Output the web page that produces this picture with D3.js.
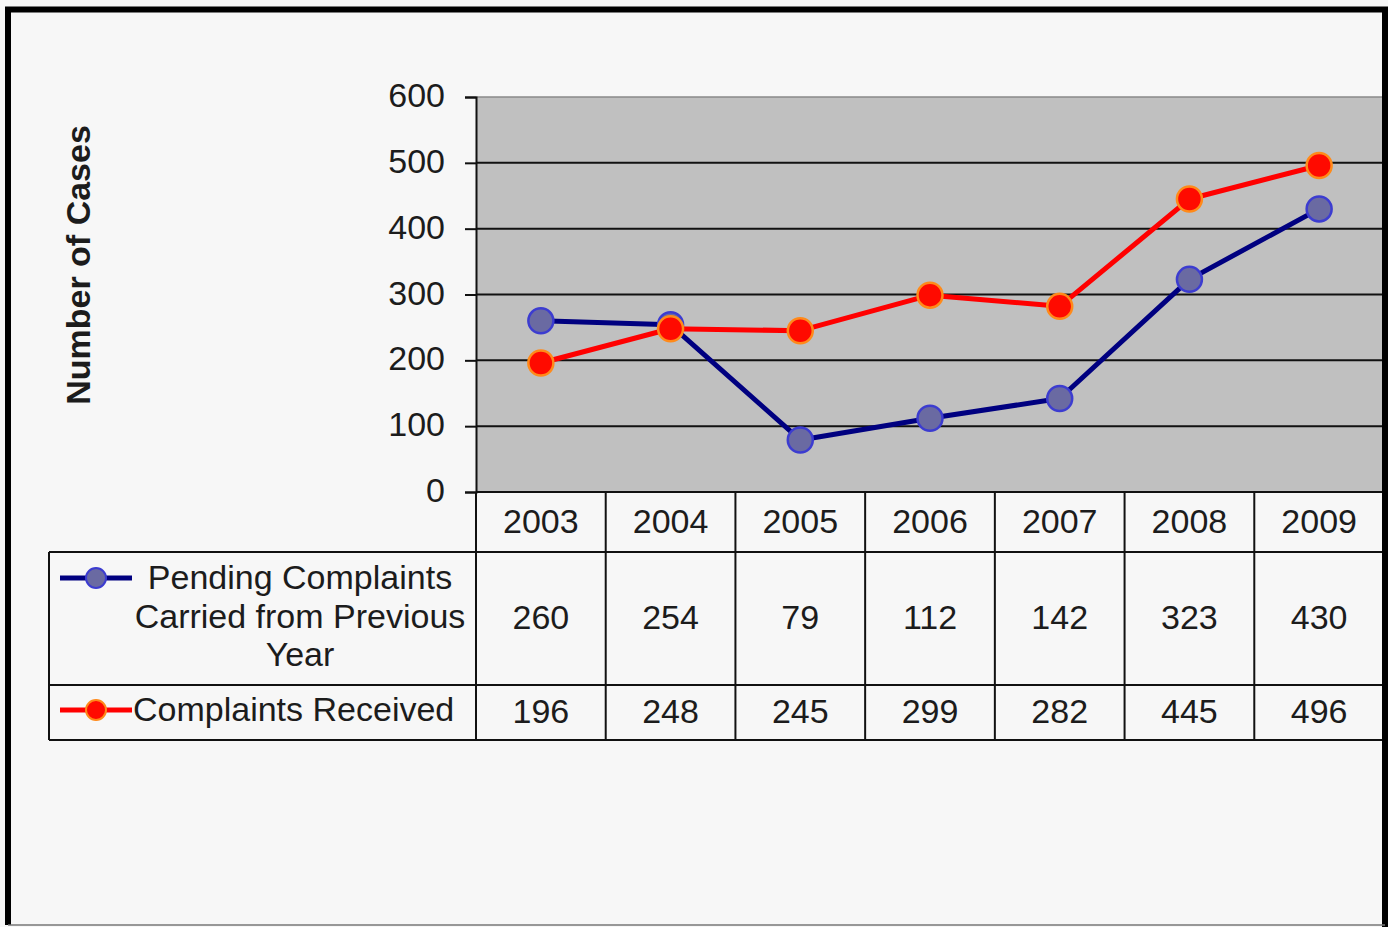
<!DOCTYPE html>
<html>
<head>
<meta charset="utf-8">
<script src="https://cdn.jsdelivr.net/npm/d3@7"></script>
<style>
  html, body { margin: 0; padding: 0; background: #f7f7f7; }
  svg { display: block; }
  text { font-family: "Liberation Sans", Arial, sans-serif; fill: #1c1c1c; }
</style>
</head>
<body>
<svg id="chart" width="1388" height="927"></svg>
<script>
// Chart data
const years = ["2003", "2004", "2005", "2006", "2007", "2008", "2009"];
const pendingCarried = [260, 254, 79, 112, 142, 323, 430];
const complaintsReceived = [196, 248, 245, 299, 282, 445, 496];
const yTicks = [0, 100, 200, 300, 400, 500, 600];
const seriesNames = [
  ["Pending Complaints", "Carried from Previous", "Year"],
  ["Complaints Received"]
];
const yTitle = "Number of Cases";

const svg = d3.select("#chart");
const W = 1388, H = 927;

// Layout
const plotLeft = 476, plotRight = 1384, plotTop = 97, plotBottom = 492;
const legendLeft = 49;
const rowBounds = [492, 552, 685, 740]; // header, series 1, series 2
const fontSize = 34;

const x = d3.scaleBand().domain(years).range([plotLeft, plotRight]);
const y = d3.scaleLinear().domain([0, 600]).range([plotBottom, plotTop]);

// Page background
svg.append("rect").attr("width", W).attr("height", H).attr("fill", "#f7f7f7");

// Plot background
svg.append("rect")
  .attr("x", plotLeft).attr("y", plotTop)
  .attr("width", plotRight - plotLeft).attr("height", plotBottom - plotTop)
  .attr("fill", "#c0c0c0");

// Top edge of plot area
svg.append("line")
  .attr("x1", plotLeft).attr("x2", plotRight)
  .attr("y1", plotTop).attr("y2", plotTop)
  .attr("stroke", "#8a8a8a").attr("stroke-width", 1.5);

// Gridlines
svg.append("g").selectAll("line")
  .data(yTicks.filter(v => v > 0 && v < 600))
  .join("line")
  .attr("x1", plotLeft).attr("x2", plotRight)
  .attr("y1", d => y(d)).attr("y2", d => y(d))
  .attr("stroke", "#111").attr("stroke-width", 2);

// Y axis
const yAxis = d3.axisLeft(y).tickValues(yTicks).tickSize(11).tickPadding(20);
const gy = svg.append("g").attr("transform", `translate(${plotLeft},0)`).call(yAxis);
gy.select(".domain").attr("stroke", "#111").attr("stroke-width", 2);
gy.selectAll(".tick line").attr("stroke", "#111").attr("stroke-width", 2);
gy.selectAll(".tick text")
  .style("font-family", "'Liberation Sans', Arial, sans-serif")
  .style("font-size", fontSize + "px")
  .attr("dy", "0.28em")
  .attr("fill", "#1c1c1c");

// Y axis title
svg.append("text")
  .attr("transform", `translate(90,265) rotate(-90)`)
  .attr("text-anchor", "middle")
  .style("font-size", fontSize + "px")
  .style("font-weight", "bold")
  .attr("fill", "#000")
  .text(yTitle);

// Series
const series = [
  { values: pendingCarried, line: "#000080", fill: "#6a6aa2", stroke: "#3c3cd0" },
  { values: complaintsReceived, line: "#ff0000", fill: "#ff0a00", stroke: "#ff8a1a" }
];
const cx = d => x(d) + x.bandwidth() / 2;
const lineGen = d3.line().x(d => cx(d.year)).y(d => y(d.value));

series.forEach(s => {
  const pts = years.map((yr, i) => ({ year: yr, value: s.values[i] }));
  svg.append("path")
    .datum(pts)
    .attr("d", lineGen)
    .attr("fill", "none")
    .attr("stroke", s.line)
    .attr("stroke-width", 5)
    .attr("stroke-linejoin", "round");
  svg.append("g").selectAll("circle")
    .data(pts)
    .join("circle")
    .attr("cx", d => cx(d.year))
    .attr("cy", d => y(d.value))
    .attr("r", 12.5)
    .attr("fill", s.fill)
    .attr("stroke", s.stroke)
    .attr("stroke-width", 2.5);
});

// Data table
const table = svg.append("g");
const tableStroke = "#111";

// Horizontal rules
table.append("line").attr("x1", plotLeft).attr("x2", plotRight)
  .attr("y1", rowBounds[0]).attr("y2", rowBounds[0])
  .attr("stroke", tableStroke).attr("stroke-width", 2);
[rowBounds[1], rowBounds[2], rowBounds[3]].forEach(yy => {
  table.append("line").attr("x1", legendLeft).attr("x2", plotRight)
    .attr("y1", yy).attr("y2", yy)
    .attr("stroke", tableStroke).attr("stroke-width", 2);
});

// Vertical rules
table.append("line").attr("x1", legendLeft).attr("x2", legendLeft)
  .attr("y1", rowBounds[1]).attr("y2", rowBounds[3])
  .attr("stroke", tableStroke).attr("stroke-width", 2);
years.forEach(yr => {
  table.append("line").attr("x1", x(yr)).attr("x2", x(yr))
    .attr("y1", rowBounds[0]).attr("y2", rowBounds[3])
    .attr("stroke", tableStroke).attr("stroke-width", 2);
});

// Year headers
table.append("g").selectAll("text")
  .data(years).join("text")
  .attr("x", d => cx(d))
  .attr("y", (rowBounds[0] + rowBounds[1]) / 2 + 11)
  .attr("text-anchor", "middle")
  .style("font-size", fontSize + "px")
  .text(d => d);

// Values rows
series.forEach((s, si) => {
  const mid = (rowBounds[si + 1] + rowBounds[si + 2]) / 2;
  table.append("g").selectAll("text")
    .data(years).join("text")
    .attr("x", d => cx(d))
    .attr("y", mid + 10)
    .attr("text-anchor", "middle")
    .style("font-size", fontSize + "px")
    .text((d, i) => s.values[i]);
});

// Legend keys and names
const keyX1 = 60, keyX2 = 132, keyMid = 96;
const legendY = [578, 710];
series.forEach((s, si) => {
  const ky = legendY[si];
  table.append("line").attr("x1", keyX1).attr("x2", keyX2)
    .attr("y1", ky).attr("y2", ky)
    .attr("stroke", s.line).attr("stroke-width", 5);
  table.append("circle").attr("cx", keyMid).attr("cy", ky).attr("r", 10)
    .attr("fill", s.fill).attr("stroke", s.stroke).attr("stroke-width", 2);
});
// First series name (three centred lines)
const nameCx = 300;
seriesNames[0].forEach((ln, i) => {
  table.append("text")
    .attr("x", nameCx)
    .attr("y", 589 + i * 38.5)
    .attr("text-anchor", "middle")
    .style("font-size", fontSize + "px")
    .text(ln);
});
// Second series name
table.append("text")
  .attr("x", 133)
  .attr("y", 721)
  .attr("text-anchor", "start")
  .style("font-size", fontSize + "px")
  .text(seriesNames[1][0]);

// Outer frame
svg.append("path")
  .attr("d", `M8,925 L8,9.5 L1385,9.5 L1385,927`)
  .attr("fill", "none")
  .attr("stroke", "#000")
  .attr("stroke-width", 6);
svg.append("line")
  .attr("x1", 8).attr("x2", 1385).attr("y1", 925).attr("y2", 925)
  .attr("stroke", "#777").attr("stroke-width", 1.5);
</script>
</body>
</html>
